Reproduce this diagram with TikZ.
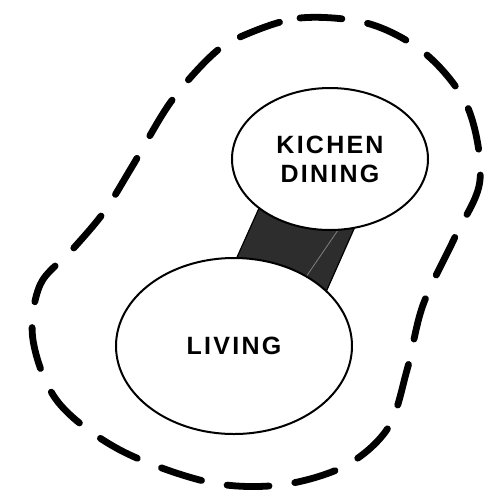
\documentclass[tikz,border=0pt]{standalone}
\usepackage{fontspec}
\setsansfont{Liberation Sans}
\usepackage{tikz}
\usetikzlibrary{shapes.geometric,backgrounds}
\definecolor{linkdark}{RGB}{45,45,45}

\begin{document}
\begin{tikzpicture}[
  x=0.5pt, y=-0.5pt,
  roombox/.style={draw, ellipse, fill=white, line width=1pt, inner sep=0pt,
                  align=center, font=\sffamily\bfseries\addfontfeatures{LetterSpace=9}\fontsize{12.5}{14.5}\selectfont},
  linkfill/.style={fill=linkdark, draw=black, line width=0.6pt},
  zoneline/.style={draw, line width=3.4pt, line cap=round,
                   dash pattern=on 21pt off 13pt}
]
\useasboundingbox (0,0) rectangle (493,495);

%% Rooms
\node[roombox, minimum width=98pt, minimum height=71pt] (kitchen) at (330,159) {KICHEN\\DINING};
\node[roombox, minimum width=118pt, minimum height=88pt] (living) at (234,346) {LIVING};

%% Link between rooms
\begin{scope}[on background layer]
\fill[linkfill] (kitchen.215) -- (kitchen.289) -- (living.31) -- (living.88) -- cycle;
\draw[gray, line width=0.4pt] (kitchen.276) -- (living.44);
\end{scope}

%% Zone outline
\draw[zoneline] plot[smooth cycle, tension=0.55] coordinates {
  (240,37) (300,18) (370,24) (427,55) (468,108) (480,180) (455,237)
  (423,305) (407,370) (388,428) (345,466) (280,485) (208,482) (120,450)
  (58,402) (33,340) (40,285) (72,250) (104,212) (133,165) (170,103) (210,57)};

\end{tikzpicture}
\end{document}
